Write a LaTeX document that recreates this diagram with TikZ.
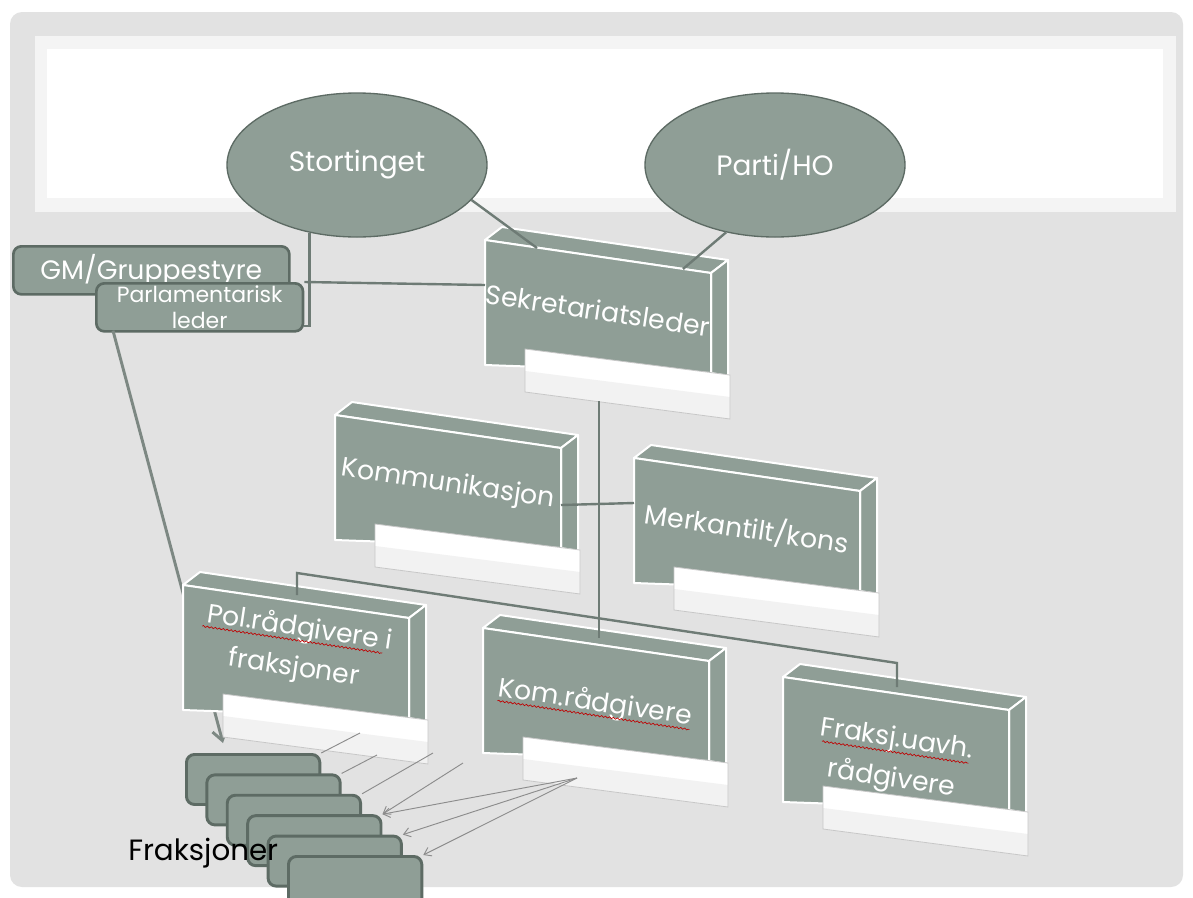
\documentclass[tikz,border=0pt]{standalone}
\usepackage{fontspec}
\setmainfont{Poppins}
\usetikzlibrary{arrows.meta,shapes.geometric,calc,decorations.pathmorphing}

\definecolor{boxgray}{HTML}{8F9E96}
\definecolor{edgegray}{HTML}{5D6B64}
\definecolor{linegray}{HTML}{6E7B75}
\definecolor{slidegray}{HTML}{E2E2E2}
\definecolor{bandwhite}{HTML}{F4F4F4}

\tikzset{
  face/.style={fill=boxgray, draw=white, line width=1.5pt, line join=round},
  tabface/.style={fill=white, draw=black!22, line width=0.6pt},
  boxtext/.style={text=white, rotate=-8.5, align=center, inner sep=0pt,
    font=\fontsize{20}{30}\selectfont},
  oval/.style={ellipse, fill=boxgray, draw=edgegray, line width=1pt,
    minimum width=195pt, minimum height=108pt, text=white,
    font=\fontsize{21}{25}\selectfont},
  roundbox/.style={rectangle, rounded corners=6pt, fill=boxgray, draw=edgegray,
    line width=2pt, text=white, align=center, inner sep=0pt},
  fraksbox/.style={rectangle, rounded corners=6pt, fill=boxgray, draw=edgegray,
    line width=2.2pt, minimum width=100pt, minimum height=37.5pt, inner sep=0pt},
  orgline/.style={draw=linegray, line width=1.8pt},
  fanline/.style={draw=black!45, line width=0.7pt},
  fanarrow/.style={fanline, -{Straight Barb[length=5pt,width=7pt]}},
  spell/.style={draw=red!75!black, line width=0.5pt, decorate,
    decoration={snake, amplitude=0.6pt, segment length=3pt}},
}

% 3D box: [text options]{name}{top left x,y}{text}
\newcommand{\orgbox}[4][]{%
  \begin{scope}[shift={(#3)}]
    \path[face] (0,0) -- (17,-13) -- (243,20) -- (226,33) -- cycle;
    \path[face] (226,33) -- (243,20) -- (243,136) -- (226,133) -- cycle;
    \path[face] (0,0) -- (226,33) -- (226,133) -- (0,125) -- cycle;
    \path[fill=white] (40,109) -- (245,135) -- (245,179) -- (40,152) -- cycle;
    \path[fill=black!5] (40,131) -- (245,157) -- (245,179) -- (40,152) -- cycle;
    \path[tabface, fill=none] (40,109) -- (245,135) -- (245,179) -- (40,152) -- cycle;
    \node[boxtext, #1] (#2) at (113,70) {#4};
    \coordinate (#2-top) at (114,10);
    \coordinate (#2-tab) at (114,161);
    \coordinate (#2-nw) at (52,8);
    \coordinate (#2-ne) at (198,29);
    \coordinate (#2-w) at (0,45);
    \coordinate (#2-e) at (226,90);
  \end{scope}}

\begin{document}
\begin{tikzpicture}[x=0.75pt,y=-0.75pt]
  \useasboundingbox (0,0) rectangle (1193,897);
  % slide
  \fill[white] (0,0) rectangle (1193,897);
  \fill[slidegray, rounded corners=9pt] (10,12) rectangle (1183,887);
  \fill[bandwhite] (35,36) rectangle (1176,212);
  \fill[white] (47,49) rectangle (1163,198);

  % top level
  \node[oval] (stort) at (357,165) {Stortinget};
  \node[oval] (parti) at (775,165) {Parti/HO};

  % group leadership
  \node[roundbox, anchor=north west, minimum width=207pt, minimum height=36pt,
    font=\fontsize{20}{23}\selectfont] (gm) at (12,245) {GM/Gruppestyre};
  \node[roundbox, anchor=north west, minimum width=155pt, minimum height=36pt,
    font=\fontsize{16.5}{20}\selectfont] (parl) at (95,282) {Parlamentarisk\\leder};

  % fraksjoner
  \foreach \i in {1,...,6}
    \node[fraksbox, anchor=north west] (frak\i) at ({185+20.4*(\i-1)},{753+20.4*(\i-1)}) {};

  \draw[draw=linegray!90, line width=2.2pt, -{Straight Barb[length=8pt,width=11pt]}]
    ([shift={(18,-2)}]parl.south west) -- ([shift={(38,-10)}]frak1.north west);

  % secretariat
  \orgbox{sek}{485,240}{Sekretariatsleder}
  \orgbox{komm}{335,415}{Kommunikasjon}
  \orgbox{merk}{634,458}{Merkantilt/kons}
  \orgbox[yshift=5pt]{pol}{183,585}{Pol.rådgivere i\\fraksjoner}
  \orgbox[yshift=-4pt]{komr}{483,628}{Kom.rådgivere}
  \orgbox[yshift=-10pt]{fraks}{783,677}{Fraksj.uavh.\\rådgivere}

  \foreach \n/\a/\b/\y in {pol/-97/85/-8, komr/-97/97/12, fraks/-74/74/-8}
    \draw[spell, shift={(\n.center)}, rotate=-8.5] (\a,\y) -- (\b,\y);

  % connectors
  \draw[orgline] (stort.-17) -- (sek-nw);
  \draw[orgline] (parti.-126) -- (sek-ne);
  \draw[orgline] (stort.-125) |- (parl.-10);
  \draw[orgline] (parl.north east) -- (sek-w);
  \draw[orgline] (sek-tab) -- (sek-tab |- komr-top);
  \draw[orgline] (komm-e) -- (merk-w);
  \draw[orgline] (pol-top) -- ++(0,-22) -- ([yshift=18pt]fraks-top) -- (fraks-top);

  % to the fraksjoner
  \draw[fanline] ([shift={(63,-13)}]pol-tab) -- (frak1.north east);
  \draw[fanline] ([shift={(80,9)}]pol-tab) -- (frak2.north east);
  \draw[fanline] ([shift={(136,7)}]pol-tab) -- (frak3.north east);
  \draw[fanarrow] ([shift={(166,17)}]pol-tab) -- (frak4.north east);
  \foreach \k in {4,5,6}
    \draw[fanarrow] ([shift={(-20,-11)}]komr-tab) -- (frak\k.north east);

  \node[font=\fontsize{22}{26}\selectfont, anchor=west, inner sep=0pt] (fraklabel) at (128,853) {Fraksjoner};
\end{tikzpicture}
\end{document}
